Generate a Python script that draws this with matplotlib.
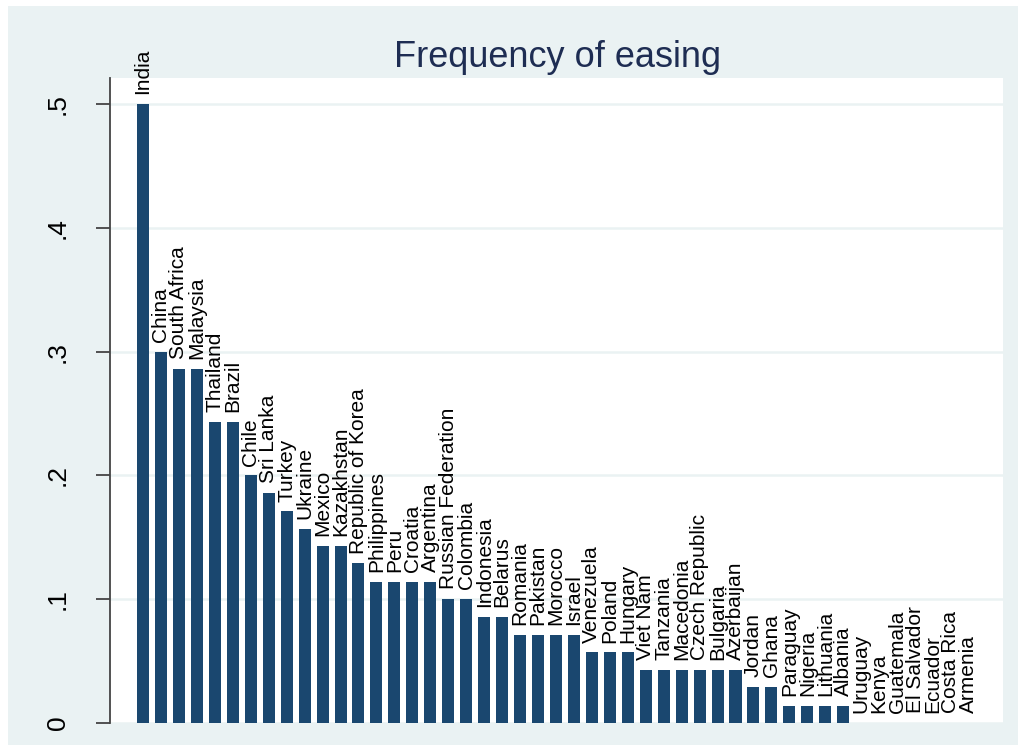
import matplotlib
matplotlib.use("Agg")
import matplotlib.pyplot as plt
from matplotlib.patches import Rectangle

countries = ["India", "China", "South Africa", "Malaysia", "Thailand", "Brazil",
             "Chile", "Sri Lanka", "Turkey", "Ukraine", "Mexico", "Kazakhstan",
             "Republic of Korea", "Philippines", "Peru", "Croatia", "Argentina",
             "Russian Federation", "Colombia", "Indonesia", "Belarus", "Romania",
             "Pakistan", "Morocco", "Israel", "Venezuela", "Poland", "Hungary",
             "Viet Nam", "Tanzania", "Macedonia", "Czech Republic", "Bulgaria",
             "Azerbaijan", "Jordan", "Ghana", "Paraguay", "Nigeria", "Lithuania",
             "Albania", "Uruguay", "Kenya", "Guatemala", "El Salvador", "Ecuador",
             "Costa Rica", "Armenia"]
freq = [0.500, 0.300, 0.286, 0.286, 0.243, 0.243,
        0.200, 0.186, 0.171, 0.157, 0.143, 0.143,
        0.129, 0.114, 0.114, 0.114, 0.114,
        0.100, 0.100, 0.086, 0.086, 0.071,
        0.071, 0.071, 0.071, 0.057, 0.057, 0.057,
        0.043, 0.043, 0.043, 0.043, 0.043,
        0.043, 0.029, 0.029, 0.014, 0.014, 0.014,
        0.014, 0.0, 0.0, 0.0, 0.0, 0.0,
        0.0, 0.0]
yticks = [0, 0.1, 0.2, 0.3, 0.4, 0.5]
ytick_labels = ["0", ".1", ".2", ".3", ".4", ".5"]
title = "Frequency of easing"

plt.rcParams['font.family'] = ['Liberation Sans', 'DejaVu Sans']

W, H = 1018, 745
fig = plt.figure(figsize=(W / 100, H / 100), dpi=100, facecolor='white')
bg = '#eaf2f3'
fig.patches.append(Rectangle((8 / W, 0), 1 - 8 / W, 1 - 6 / H, transform=fig.transFigure,
                             facecolor=bg, edgecolor='none', zorder=-10))

left, right, top, bottom = 110, 1003, 78, 723
ax = fig.add_axes([left / W, 1 - bottom / H, (right - left) / W, (bottom - top) / H])
ax.set_facecolor('white')

x = list(range(len(countries)))
ax.bar(x, freq, width=0.67, color='#1a476f', zorder=3)
for xi, v, name in zip(x, freq, countries):
    ax.annotate(name, (xi, v), xytext=(0, 7), textcoords='offset points',
                rotation=90, ha='center', va='bottom', fontsize=15, color='black',
                annotation_clip=False)

ax.set_xlim(-1.84, 47.9)
ax.set_ylim(0, 0.521)
ax.set_xticks([])
ax.set_yticks(yticks)
ax.set_yticklabels(ytick_labels, rotation=90, va='center', ha='right', fontsize=19)
ax.tick_params(axis='y', length=10, width=1.3, color='#444444', pad=19)
ax.yaxis.grid(True, color=bg, linewidth=1.8, zorder=0)
ax.set_axisbelow(True)
for s in ['top', 'right', 'bottom']:
    ax.spines[s].set_visible(False)
ax.spines['left'].set_color('#444444')
ax.spines['left'].set_linewidth(1.3)

fig.text(557 / W, 1 - 66.7 / H, title, ha='center', va='baseline', fontsize=26,
         color='#1e2d53')

fig.savefig('out.png', dpi=100, facecolor='white')
